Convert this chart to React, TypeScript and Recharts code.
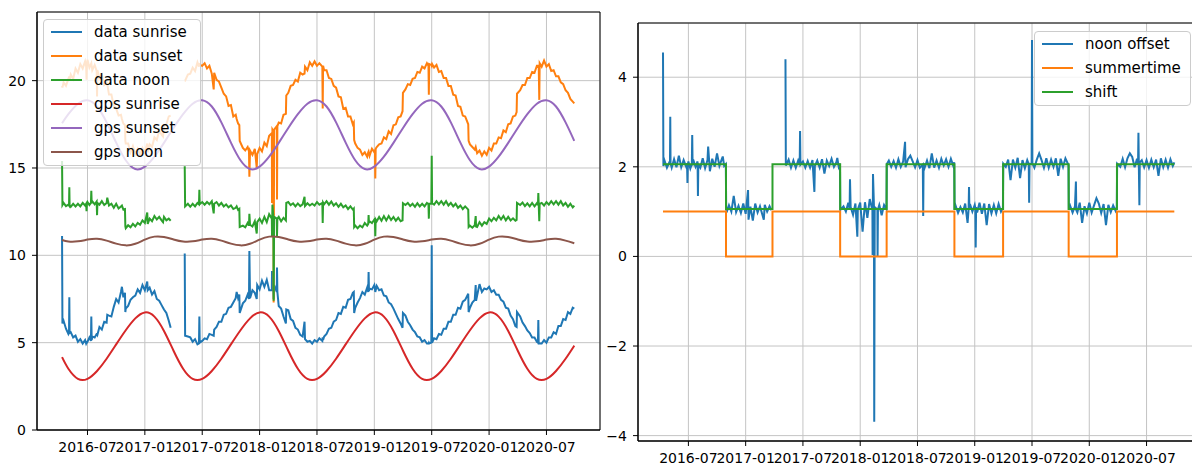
import React from 'react';
import { CartesianGrid, Line, LineChart, ReferenceArea, XAxis, YAxis } from 'recharts';

// x is a month index: 0 = 2016-01-01, 6 = 2016-07-01, ...
const tickMonths = [6, 12, 18, 24, 30, 36, 42, 48, 54];
const tickLabels = ['2016-07', '2017-01', '2017-07', '2018-01', '2018-07', '2019-01', '2019-07', '2020-01', '2020-07'];

// observed series share one sample grid; null = no data
const obsMonths = [
  3.34, 3.38, 3.5, 3.75, 4.0, 4.07, 4.1, 4.13, 4.25, 4.5,
  4.75, 5.0, 5.25, 5.5, 5.75, 5.86, 5.9, 5.94, 6.0, 6.2,
  6.36, 6.4, 6.44, 6.5, 6.75, 6.96, 7.0, 7.04, 7.25, 7.5,
  7.75, 8.0, 8.07, 8.25, 8.5, 8.75, 9.0, 9.25, 9.5, 9.6,
  9.75, 9.92, 9.96, 10.0, 10.25, 10.5, 10.75, 11.0, 11.25, 11.5,
  11.75, 12.0, 12.25, 12.3, 12.5, 12.75, 13.0, 13.25, 13.5, 13.75,
  13.9, 14.0, 14.25, 14.5, 14.7, 15.5, 16.17, 16.21, 16.5, 16.75,
  17.0, 17.25, 17.5, 17.66, 17.7, 17.74, 18.0, 18.25, 18.5, 18.75,
  19.0, 19.2, 19.25, 19.5, 19.75, 20.0, 20.25, 20.5, 20.75, 21.0,
  21.25, 21.5, 21.6, 21.75, 21.88, 21.92, 22.25, 22.5, 22.75, 22.89,
  22.93, 23.0, 23.25, 23.5, 23.7, 23.75, 24.0, 24.25, 24.5, 24.75,
  25.0, 25.28, 25.3, 25.34, 25.44, 25.47, 25.52, 25.8, 25.82, 25.86,
  26.0, 26.25, 26.5, 26.75, 26.79, 27.0, 27.25, 27.5, 27.75, 28.0,
  28.25, 28.5, 28.7, 28.75, 29.0, 29.25, 29.5, 29.75, 30.0, 30.25,
  30.56, 30.6, 30.64, 30.75, 31.0, 31.25, 31.5, 31.75, 32.0, 32.25,
  32.5, 32.75, 33.0, 33.25, 33.5, 33.75, 33.85, 33.89, 34.0, 34.25,
  34.5, 34.75, 35.0, 35.25, 35.36, 35.4, 35.44, 35.5, 35.75, 36.0,
  36.06, 36.1, 36.14, 36.25, 36.5, 36.75, 37.0, 37.25, 37.5, 37.75,
  38.0, 38.25, 38.5, 38.75, 38.95, 38.99, 39.25, 39.5, 39.75, 40.0,
  40.25, 40.5, 40.75, 41.0, 41.25, 41.5, 41.66, 41.7, 41.74, 41.96,
  42.0, 42.04, 42.25, 42.5, 42.75, 43.0, 43.25, 43.5, 43.75, 44.0,
  44.25, 44.5, 44.75, 45.0, 45.25, 45.5, 45.82, 45.86, 46.0, 46.25,
  46.5, 46.6, 46.64, 46.75, 47.0, 47.25, 47.5, 47.75, 48.0, 48.25,
  48.5, 48.75, 49.0, 49.25, 49.5, 49.75, 50.0, 50.25, 50.5, 50.75,
  50.88, 50.92, 51.25, 51.5, 51.75, 52.0, 52.25, 52.5, 52.75, 53.0,
  53.11, 53.15, 53.19, 53.25, 53.29, 53.5, 53.75, 54.0, 54.25, 54.5,
  54.75, 55.0, 55.25, 55.5, 55.75, 56.0, 56.25, 56.5, 56.75, 56.91,
];

const dataSunrise = [
  11.1, 6.1, 6.25, 5.8, 5.5, 5.6, 7.6, 5.55, 5.6, 5.3,
  5.4, 5.05, 5.2, 4.95, 5.15, 4.95, 5.0, 5.0, 5.05, 5.3,
  5.1, 6.5, 5.15, 5.35, 5.3, 5.5, 5.5, 5.45, 5.9, 5.75,
  6.2, 6.15, 6.6, 6.55, 6.5, 7.05, 7.5, 7.3, 7.9, 8.2,
  7.6, 7.85, 6.75, 6.95, 7.1, 7.45, 7.6, 7.7, 8.05, 7.85,
  8.3, 8.0, 8.5, 8.0, 8.15, 7.75, 7.95, 7.5, 7.4, 7.15,
  7.0, 6.9, 6.7, 6.25, 5.85, null, 10.1, 5.4, 5.35, 5.3,
  5.05, 5.2, 4.9, 4.95, 6.5, 5.0, 5.1, 5.25, 5.2, 5.5,
  5.45, 5.4, 5.75, 5.9, 6.2, 6.2, 6.6, 6.65, 7.0, 7.05,
  7.3, 7.55, 7.9, 7.55, 7.75, 6.7, 7.25, 7.4, 7.75, 7.5,
  10.25, 7.55, 8.0, 7.85, 7.5, 8.3, 8.05, 8.55, 8.2, 8.6,
  8.0, 8.0, 9.1, 8.6, 8.1, 7.5, 8.3, 7.9, 9.3, 7.9,
  7.1, 6.95, 6.5, 6.1, 6.9, 6.85, 6.35, 6.25, 5.85, 5.75,
  5.45, 5.35, 6.2, 5.2, 5.05, 5.1, 4.95, 5.15, 5.05, 5.25,
  5.1, 5.3, 5.15, 5.35, 5.5, 5.8, 5.85, 6.2, 6.3, 6.7,
  6.65, 7.05, 7.0, 7.45, 7.5, 7.85, 7.9, 6.7, 7.0, 7.3,
  7.55, 7.9, 7.75, 8.15, 7.9, 9.05, 7.95, 8.1, 8.05, 8.3,
  8.1, 7.9, 8.0, 8.25, 8.0, 8.05, 7.7, 7.65, 7.3, 7.2,
  6.95, 6.65, 6.35, 6.1, 5.85, 6.7, 6.55, 6.2, 6.0, 5.75,
  5.6, 5.35, 5.3, 5.05, 5.15, 4.95, 4.95, 5.0, 4.95, 5.0,
  10.57, 5.0, 5.25, 5.2, 5.5, 5.45, 5.8, 5.8, 6.2, 6.2,
  6.6, 6.6, 7.0, 6.95, 7.35, 7.45, 7.8, 6.75, 7.0, 7.3,
  7.45, 8.3, 7.4, 7.7, 8.35, 7.9, 8.1, 8.05, 8.2, 7.9,
  8.0, 7.75, 7.75, 7.45, 7.35, 7.0, 6.95, 6.55, 6.35, 5.95,
  5.9, 6.75, 6.5, 6.15, 5.95, 5.7, 5.55, 5.3, 5.3, 5.05,
  5.0, 6.3, 4.95, 4.95, 4.95, 4.95, 5.15, 5.0, 5.3, 5.3,
  5.6, 5.5, 5.95, 5.95, 6.35, 6.3, 6.75, 6.65, 7.0, 6.95,
];

const dataSunset = [
  19.7, 19.6, 19.9, 19.7, 20.1, 20.2, 20.2, 20.0, 20.35, 20.1,
  20.7, 20.45, 20.95, 20.7, 21.1, 20.8, 20.05, 20.95, 21.2, 20.75,
  20.95, 21.0, 20.85, 20.6, 20.9, 20.55, 19.1, 20.6, 20.15, 20.35,
  19.75, 19.9, 19.8, 19.2, 19.2, 18.55, 18.4, 18.0, 18.05, 17.8,
  17.55, 17.45, 16.55, 16.4, 16.4, 15.9, 16.25, 15.8, 16.1, 15.75,
  16.15, 15.9, 16.4, 15.9, 16.35, 16.2, 16.75, 16.6, 17.15, 16.9,
  16.8, 17.45, 17.5, 17.95, 18.0, null, 20.0, 20.0, 20.35, 20.4,
  20.75, 20.55, 21.05, 20.8, 21.0, 20.9, 20.85, 21.0, 20.7, 20.85,
  20.4, 19.5, 20.45, 20.05, 19.95, 19.6, 19.25, 19.1, 18.55, 18.6,
  17.95, 18.05, 17.8, 17.55, 17.45, 16.55, 16.15, 16.0, 16.2, 15.95,
  14.5, 16.0, 15.75, 16.1, 15.0, 15.8, 16.15, 15.95, 16.45, 16.25,
  16.85, 17.0, 13.0, 17.2, 17.1, 7.3, 17.2, 17.4, 13.2, 17.4,
  17.6, 17.55, 18.05, 18.1, 19.15, 19.3, 19.7, 19.75, 20.05, 19.95,
  20.45, 20.35, 20.4, 20.8, 20.6, 21.05, 20.85, 21.1, 20.85, 21.0,
  20.8, 18.4, 20.85, 20.6, 20.6, 20.15, 20.1, 19.7, 19.6, 19.1,
  19.05, 18.4, 18.45, 17.95, 17.95, 17.5, 17.6, 16.6, 16.4, 16.15,
  16.05, 15.75, 15.9, 15.65, 15.9, 15.95, 15.85, 15.7, 16.1, 15.9,
  16.05, 14.4, 16.1, 16.2, 16.35, 16.4, 16.75, 16.65, 17.1, 16.95,
  17.45, 17.5, 17.9, 17.95, 18.25, 19.3, 19.5, 19.8, 19.75, 20.1,
  20.15, 20.5, 20.45, 20.8, 20.7, 21.0, 20.85, 19.2, 20.95, 20.9,
  20.85, 20.95, 20.75, 20.9, 20.5, 20.55, 20.15, 20.15, 19.7, 19.7,
  19.2, 19.15, 18.55, 18.5, 18.0, 17.95, 17.5, 16.55, 16.35, 16.2,
  16.05, 16.2, 16.1, 15.85, 16.0, 15.7, 15.95, 15.75, 16.15, 16.0,
  16.4, 16.4, 16.75, 16.7, 17.15, 17.05, 17.5, 17.55, 17.95, 18.0,
  18.2, 19.25, 19.45, 19.75, 19.75, 20.15, 20.15, 20.5, 20.45, 20.85,
  20.85, 20.8, 20.9, 18.9, 21.0, 20.8, 21.15, 20.8, 20.95, 20.55,
  20.6, 20.25, 20.25, 19.9, 19.8, 19.45, 19.3, 18.95, 18.8, 18.7,
];

const dataNoon = [
  15.4, 12.88, 13.0, 12.82, 12.9, 12.85, 13.9, 12.88, 12.78, 12.95,
  12.8, 12.95, 12.8, 13.0, 12.85, 12.95, 12.52, 12.95, 13.05, 12.88,
  13.0, 13.7, 12.98, 13.1, 12.92, 13.08, 12.3, 13.0, 12.9, 13.1,
  12.88, 13.0, 13.3, 12.85, 12.95, 12.72, 12.95, 12.68, 12.8, 12.85,
  12.62, 12.65, 11.65, 11.55, 11.72, 11.6, 11.8, 11.65, 11.85, 11.75,
  12.0, 11.85, 12.45, 11.8, 12.1, 11.95, 12.25, 12.05, 12.2, 12.0,
  11.9, 12.2, 12.0, 12.1, 11.98, null, 15.1, 12.8, 12.95, 12.78,
  12.95, 12.8, 13.0, 12.92, 13.75, 12.93, 13.05, 12.9, 13.05, 12.92,
  13.1, 12.4, 12.95, 13.05, 12.85, 13.0, 12.8, 12.92, 12.75, 12.85,
  12.65, 12.72, 12.8, 12.6, 12.66, 11.62, 11.7, 11.6, 11.85, 11.7,
  12.38, 11.75, 11.65, 11.95, 11.25, 11.9, 12.1, 11.85, 12.2, 11.9,
  12.35, 12.1, 11.05, 12.9, 12.2, 7.4, 12.2, 12.1, 11.1, 12.1,
  12.2, 11.95, 12.15, 12.0, 13.0, 13.05, 12.88, 12.98, 12.8, 12.97,
  12.82, 12.92, 13.35, 12.82, 12.98, 12.85, 12.95, 12.85, 13.05, 12.9,
  13.0, 11.85, 13.02, 12.92, 13.1, 12.9, 13.08, 12.85, 12.98, 12.78,
  12.95, 12.75, 12.85, 12.65, 12.8, 12.62, 12.68, 11.62, 11.7, 11.55,
  11.7, 11.6, 11.85, 11.7, 11.8, 12.3, 11.85, 11.95, 11.85, 12.05,
  12.0, 11.1, 12.05, 11.95, 12.2, 11.98, 12.25, 12.0, 12.25, 12.02,
  12.2, 11.98, 12.15, 11.95, 12.0, 12.98, 12.88, 13.0, 12.82, 12.95,
  12.78, 12.98, 12.8, 12.95, 12.8, 13.0, 12.93, 12.1, 12.95, 12.96,
  15.7, 12.98, 12.9, 13.1, 12.92, 13.1, 12.9, 13.1, 12.85, 13.0,
  12.8, 12.95, 12.72, 12.85, 12.65, 12.8, 12.62, 11.62, 11.7, 11.58,
  11.72, 12.25, 11.65, 11.62, 11.9, 11.7, 11.9, 11.8, 12.1, 11.95,
  12.15, 12.0, 12.25, 12.05, 12.25, 12.0, 12.2, 12.0, 12.12, 11.98,
  12.03, 13.0, 12.88, 13.02, 12.82, 12.98, 12.8, 13.0, 12.8, 12.98,
  12.9, 13.56, 12.92, 11.95, 12.95, 13.0, 12.85, 13.05, 12.9, 13.1,
  12.92, 13.1, 12.9, 13.1, 12.85, 13.0, 12.78, 12.95, 12.75, 12.85,
];

const noonOffset = [
  4.55, 2.02, 2.14, 1.98, 2.1, 2.06, 3.12, 2.08, 1.98, 2.17,
  1.99, 2.25, 1.99, 2.15, 2.01, 2.08, 1.64, 2.05, 2.12, 1.96,
  2.06, 2.71, 2.03, 2.16, 2.0, 2.12, 1.35, 2.05, 1.98, 2.19,
  1.97, 2.15, 2.45, 1.9, 2.18, 2.0, 2.3, 2.02, 2.17, 2.23,
  2.02, 2.06, 1.08, 0.98, 1.14, 1.0, 1.35, 0.99, 1.13, 0.97,
  1.18, 0.95, 1.48, 0.82, 1.11, 0.8, 1.18, 0.98, 1.12, 0.93,
  0.82, 1.15, 1.0, 1.12, 1.03, null, 4.4, 2.03, 2.16, 1.98,
  2.14, 1.98, 2.14, 2.05, 2.8, 2.05, 2.12, 1.98, 2.13, 1.98,
  2.15, 1.44, 2.02, 2.14, 1.98, 2.17, 1.85, 2.14, 2.02, 2.18,
  2.0, 2.1, 2.2, 2.0, 2.07, 1.04, 1.12, 1.0, 1.2, 1.05,
  1.72, 1.1, 0.93, 1.18, 0.44, 1.05, 1.2, 0.55, 1.21, 0.86,
  1.28, 1.03, 0.03, 1.84, 1.12, -3.69, 1.1, 1.05, 0.0, 1.05,
  1.15, 0.92, 1.15, 1.06, 2.06, 2.14, 2.0, 2.13, 1.98, 2.17,
  2.0, 2.12, 2.56, 1.99, 2.17, 2.25, 2.12, 1.99, 2.15, 1.98,
  2.05, 0.9, 2.08, 1.98, 2.14, 1.97, 2.3, 1.98, 2.14, 1.98,
  2.18, 2.03, 2.17, 2.0, 2.18, 2.02, 2.1, 1.04, 1.13, 0.97,
  1.1, 0.98, 1.18, 0.75, 1.06, 1.55, 1.08, 1.17, 1.0, 1.15,
  1.08, 0.2, 1.1, 0.98, 1.2, 0.95, 1.18, 0.7, 1.17, 0.96,
  1.15, 0.96, 1.17, 1.0, 1.08, 2.07, 2.0, 2.16, 1.7, 2.16,
  1.98, 2.2, 1.75, 2.15, 1.97, 2.15, 2.06, 1.2, 2.07, 2.06,
  4.83, 2.08, 1.98, 2.16, 2.3, 2.15, 1.98, 2.19, 1.98, 2.16,
  2.0, 2.19, 1.8, 2.18, 2.0, 2.19, 2.04, 1.04, 1.13, 0.98,
  1.12, 1.67, 1.03, 0.98, 1.2, 0.75, 1.12, 0.96, 1.2, 0.98,
  1.14, 1.3, 1.18, 0.97, 1.17, 0.7, 1.15, 0.99, 1.14, 1.02,
  1.1, 2.07, 2.0, 2.18, 1.99, 2.19, 2.3, 2.22, 1.99, 2.18,
  2.07, 2.76, 2.07, 1.14, 2.1, 2.15, 1.99, 2.15, 1.98, 2.16,
  1.99, 2.16, 1.8, 2.19, 1.99, 2.16, 1.98, 2.17, 2.02, 2.1,
];

// gps reference curves, sampled on the 1st of each month
const gpsMonths = [
  3.34, 4, 5, 6, 7, 8, 9, 10, 11, 12, 13, 14, 15, 16, 17, 18, 19, 20, 21, 22,
  23, 24, 25, 26, 27, 28, 29, 30, 31, 32, 33, 34, 35, 36, 37, 38, 39, 40, 41, 42,
  43, 44, 45, 46, 47, 48, 49, 50, 51, 52, 53, 54, 55, 56, 56.91,
];
const gpsSunrise = [
  4.17, 3.51, 2.93, 2.93, 3.38, 4.08, 4.9, 5.71, 6.39, 6.73, 6.49, 5.67, 4.54, 3.51, 2.93, 2.93, 3.38, 4.08, 4.9, 5.71,
  6.39, 6.73, 6.49, 5.67, 4.54, 3.51, 2.93, 2.93, 3.38, 4.08, 4.9, 5.71, 6.39, 6.73, 6.49, 5.67, 4.54, 3.51, 2.93, 2.93,
  3.38, 4.08, 4.9, 5.71, 6.39, 6.73, 6.49, 5.67, 4.54, 3.51, 2.93, 2.93, 3.38, 4.08, 4.83,
];
const gpsSunset = [
  17.56, 18.08, 18.68, 18.88, 18.52, 17.61, 16.45, 15.44, 14.94, 15.08, 15.65, 16.44, 17.29, 18.08, 18.68, 18.88, 18.52, 17.61, 16.45, 15.44,
  14.94, 15.08, 15.65, 16.44, 17.29, 18.08, 18.68, 18.88, 18.52, 17.61, 16.45, 15.44, 14.94, 15.08, 15.65, 16.44, 17.29, 18.08, 18.68, 18.88,
  18.52, 17.61, 16.45, 15.44, 14.94, 15.08, 15.65, 16.44, 17.29, 18.08, 18.68, 18.88, 18.52, 17.61, 16.55,
];
const gpsNoon = [
  10.88, 10.79, 10.8, 10.9, 10.95, 10.84, 10.67, 10.57, 10.66, 10.9, 11.07, 11.05, 10.91, 10.79, 10.8, 10.9, 10.95, 10.84, 10.67, 10.57,
  10.66, 10.9, 11.07, 11.05, 10.91, 10.79, 10.8, 10.9, 10.95, 10.84, 10.67, 10.57, 10.66, 10.9, 11.07, 11.05, 10.91, 10.79, 10.8, 10.9,
  10.95, 10.84, 10.67, 10.57, 10.66, 10.9, 11.07, 11.05, 10.91, 10.79, 10.8, 10.9, 10.95, 10.84, 10.69,
];

// daylight saving switches
const dstMonths = [3.34, 9.94, 14.81, 21.9, 26.77, 33.87, 38.97, 45.84, 50.9, 56.91];
const summertime = [1, 0, 1, 0, 1, 0, 1, 0, 1, 1];
const shift = [2.06, 1.06, 2.06, 1.06, 2.06, 1.06, 2.06, 1.06, 2.06, 2.06];

const X_DOMAIN: [number, number] = [0.72, 59.6];
const LEFT_Y: [number, number] = [0, 23.93];
const RIGHT_Y: [number, number] = [-4.12, 5.21];

const C = {
  blue: '#1f77b4',
  orange: '#ff7f0e',
  green: '#2ca02c',
  red: '#d62728',
  purple: '#9467bd',
  brown: '#8c564b',
};

const leftLegend = [
  { name: 'data sunrise', color: C.blue },
  { name: 'data sunset', color: C.orange },
  { name: 'data noon', color: C.green },
  { name: 'gps sunrise', color: C.red },
  { name: 'gps sunset', color: C.purple },
  { name: 'gps noon', color: C.brown },
];
const rightLegend = [
  { name: 'noon offset', color: C.blue },
  { name: 'summertime', color: C.orange },
  { name: 'shift', color: C.green },
];

const FONT = '"DejaVu Sans", sans-serif';
const tickStyle = { fill: '#000', fontSize: 14, fontFamily: FONT };

const pts = (xs: number[], ys: (number | null)[]) => xs.map((m, i) => ({ m, v: ys[i] }));
const fmtMonth = (m: number) => tickLabels[tickMonths.indexOf(m)] ?? '';
const fmtSigned = (v: number) => (v < 0 ? `\u2212${-v}` : `${v}`);

function LegendBox({ items, style }: { items: { name: string; color: string }[]; style: React.CSSProperties }) {
  return (
    <div
      style={{
        position: 'absolute',
        boxSizing: 'border-box',
        background: 'rgba(255,255,255,0.8)',
        border: '1px solid #cccccc',
        borderRadius: 4,
        paddingLeft: 7,
        ...style,
      }}
    >
      {items.map((it) => (
        <div key={it.name} style={{ height: 24, display: 'flex', alignItems: 'center' }}>
          <div style={{ width: 31, height: 2, background: it.color, marginRight: 12 }} />
          <span style={{ fontFamily: FONT, fontSize: 15, color: '#000', whiteSpace: 'nowrap' }}>{it.name}</span>
        </div>
      ))}
    </div>
  );
}

export default function App() {
  const line = (data: any[], name: string, color: string, type: any = 'linear') => (
    <Line
      key={name}
      data={data}
      dataKey="v"
      name={name}
      type={type}
      stroke={color}
      strokeWidth={2}
      dot={false}
      activeDot={false}
      isAnimationActive={false}
    />
  );

  const xAxis = (height: number) => (
    <XAxis
      dataKey="m"
      type="number"
      domain={X_DOMAIN}
      ticks={tickMonths}
      tickFormatter={fmtMonth}
      interval={0}
      allowDataOverflow
      height={height}
      tickSize={5}
      tickMargin={7}
      tick={tickStyle}
      stroke="#000"
    />
  );

  return (
    <div style={{ position: 'absolute', left: 0, top: 0, width: 1192, height: 467, overflow: 'hidden', background: '#fff' }}>
      <div style={{ position: 'absolute', left: 0, top: 0 }}>
        <LineChart width={605} height={467} margin={{ top: 12, right: 5, bottom: 0, left: 0 }}>
          <CartesianGrid stroke="#c4c4c4" strokeWidth={1} />
          {xAxis(37)}
          <YAxis
            type="number"
            domain={LEFT_Y}
            ticks={[0, 5, 10, 15, 20]}
            interval={0}
            allowDataOverflow
            width={37}
            tickSize={5}
            tickMargin={6}
            tick={tickStyle}
            stroke="#000"
          />
          {line(pts(obsMonths, dataSunrise), 'data sunrise', C.blue)}
          {line(pts(obsMonths, dataSunset), 'data sunset', C.orange)}
          {line(pts(obsMonths, dataNoon), 'data noon', C.green)}
          {line(pts(gpsMonths, gpsSunrise), 'gps sunrise', C.red, 'natural')}
          {line(pts(gpsMonths, gpsSunset), 'gps sunset', C.purple, 'natural')}
          {line(pts(gpsMonths, gpsNoon), 'gps noon', C.brown, 'natural')}
          <ReferenceArea
            x1={X_DOMAIN[0]}
            x2={X_DOMAIN[1]}
            y1={LEFT_Y[0]}
            y2={LEFT_Y[1]}
            fill="none"
            stroke="#000"
            strokeWidth={1}
            ifOverflow="visible"
          />
        </LineChart>
      </div>
      <div style={{ position: 'absolute', left: 600, top: 0 }}>
        <LineChart width={600} height={467} margin={{ top: 23, right: 0, bottom: 0, left: 0 }}>
          <CartesianGrid stroke="#c4c4c4" strokeWidth={1} />
          {xAxis(26)}
          <YAxis
            type="number"
            domain={RIGHT_Y}
            ticks={[-4, -2, 0, 2, 4]}
            tickFormatter={fmtSigned}
            interval={0}
            allowDataOverflow
            width={38}
            tickSize={5}
            tickMargin={6}
            tick={tickStyle}
            stroke="#000"
          />
          {line(pts(obsMonths, noonOffset), 'noon offset', C.blue)}
          {line(pts(dstMonths, summertime), 'summertime', C.orange, 'stepAfter')}
          {line(pts(dstMonths, shift), 'shift', C.green, 'stepAfter')}
          <ReferenceArea
            x1={X_DOMAIN[0]}
            x2={X_DOMAIN[1]}
            y1={RIGHT_Y[0]}
            y2={RIGHT_Y[1]}
            fill="none"
            stroke="#000"
            strokeWidth={1}
            ifOverflow="visible"
          />
        </LineChart>
      </div>
      <LegendBox items={leftLegend} style={{ left: 43, top: 19, width: 158, height: 147 }} />
      <LegendBox items={rightLegend} style={{ left: 1034, top: 31, width: 157, height: 75 }} />
    </div>
  );
}
